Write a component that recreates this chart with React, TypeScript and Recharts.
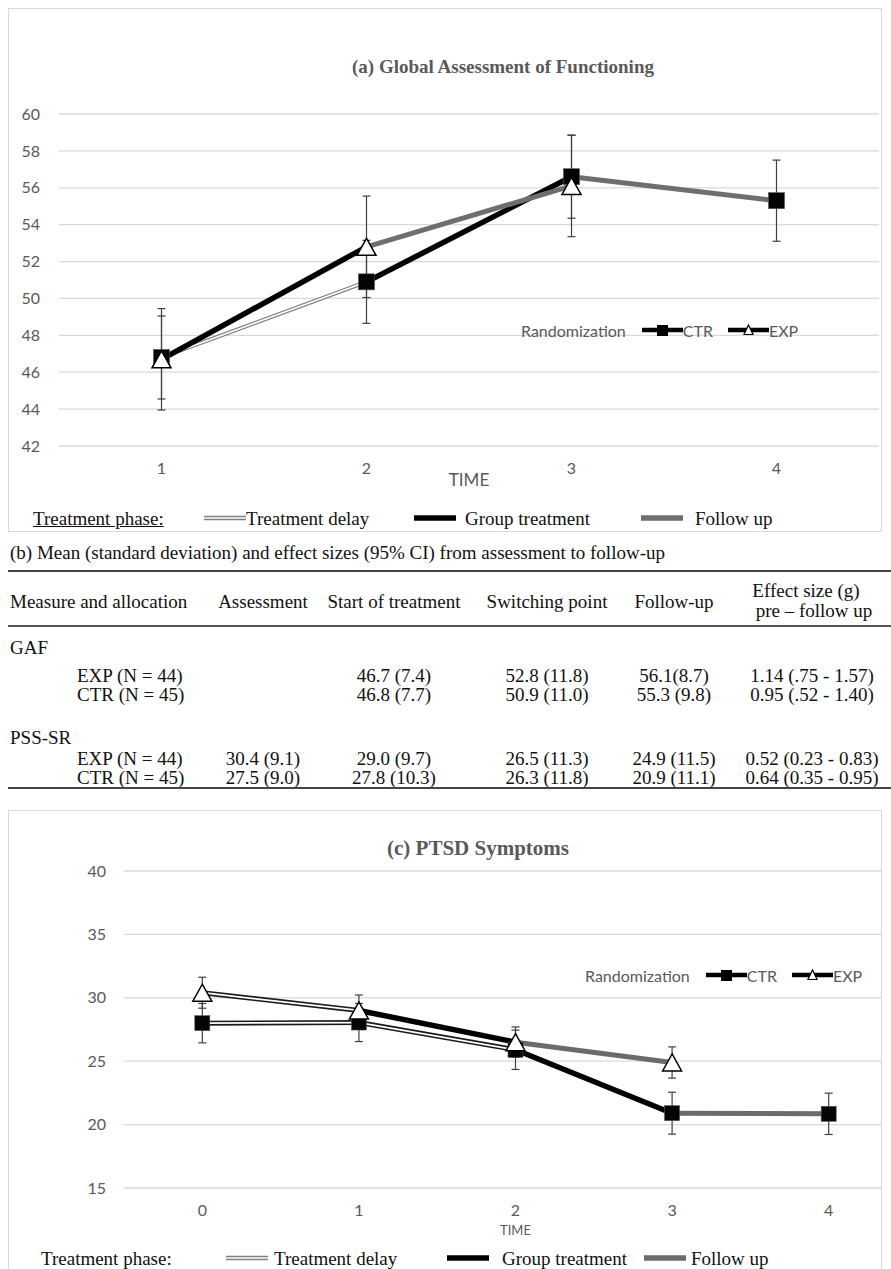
import React from 'react'
import { CartesianGrid, ErrorBar, Line, LineChart, XAxis, YAxis } from 'recharts'

// (a) Global Assessment of Functioning
const gafTimes = ['1', '2', '3', '4']
const gafCtr = [46.8, 50.9, 56.6, 55.3]
const gafCtrErr = [2.25, 2.25, 2.25, 2.2]
const gafExp = [46.7, 52.8, 56.1]
const gafExpErr = [2.75, 2.75, 2.75]
const gafCtrPhases = ['delay', 'group', 'follow']
const gafExpPhases = ['group', 'follow']
const gafTicks = [42, 44, 46, 48, 50, 52, 54, 56, 58, 60]

// (c) PTSD symptoms
const ptsdTimes = ['0', '1', '2', '3', '4']
const ptsdCtr = [28.0, 28.05, 25.9, 20.9, 20.85]
const ptsdCtrErr = [1.55, 1.5, 1.55, 1.65, 1.63]
const ptsdExp = [30.4, 29.0, 26.5, 24.9]
const ptsdExpErr = [1.22, 1.22, 1.2, 1.23]
const ptsdCtrPhases = ['delay', 'delay', 'group', 'follow']
const ptsdExpPhases = ['delay', 'group', 'follow']
const ptsdTicks = [15, 20, 25, 30, 35, 40]

// (b) table
const tableTitle = '(b) Mean (standard deviation) and effect sizes (95% CI) from assessment to follow-up'
const columnHeads = ['Assessment', 'Start of treatment', 'Switching point', 'Follow-up']
const effectHead = ['Effect size (g)', 'pre \u2013 follow up']
const gafTableRows = [
    ['EXP (N = 44)', '', '46.7 (7.4)', '52.8 (11.8)', '56.1(8.7)', '1.14 (.75 - 1.57)'],
    ['CTR (N = 45)', '', '46.8 (7.7)', '50.9 (11.0)', '55.3 (9.8)', '0.95 (.52 - 1.40)']
]
const pssTableRows = [
    ['EXP (N = 44)', '30.4 (9.1)', '29.0 (9.7)', '26.5 (11.3)', '24.9 (11.5)', '0.52 (0.23 - 0.83)'],
    ['CTR (N = 45)', '27.5 (9.0)', '27.8 (10.3)', '26.3 (11.8)', '20.9 (11.1)', '0.64 (0.35 - 0.95)']
]

const phaseLabels = ['Treatment delay', 'Group treatment', 'Follow up']

const SERIF = '"Liberation Serif", "Times New Roman", serif'
const SANS = 'Lato, "Noto Sans", sans-serif'
const AXIS_GREY = '#595959'
const PHASE_ORDER = ['delay', 'group', 'follow']

type PhaseStyle = { color: string; width: number; inner?: number }

const gafPhaseStyles: Record<string, PhaseStyle> = {
    delay: { color: '#7f7f7f', width: 4, inner: 1.6 },
    group: { color: '#000', width: 5.5 },
    follow: { color: '#6e6e6e', width: 5 }
}

const ptsdPhaseStyles: Record<string, PhaseStyle> = {
    delay: { color: '#1a1a1a', width: 5, inner: 1.8 },
    group: { color: '#000', width: 5.5 },
    follow: { color: '#6b6b6b', width: 5 }
}

function buildRows(
    times: string[],
    ctr: number[],
    ctrErr: number[],
    exp: number[],
    expErr: number[],
    ctrPhases: string[],
    expPhases: string[]
) {
    const rows = times.map((time, i) => {
        const row: Record<string, string | number | null> = {
            time,
            ctr: ctr[i] ?? null,
            ctrErr: ctrErr[i] ?? null,
            exp: exp[i] ?? null,
            expErr: expErr[i] ?? null
        }
        ctrPhases.forEach((_, s) => {
            row[`ctr${s}`] = i === s || i === s + 1 ? ctr[i] : null
        })
        expPhases.forEach((_, s) => {
            row[`exp${s}`] = i === s || i === s + 1 ? (exp[i] ?? null) : null
        })
        return row
    })
    const segments = [
        ...ctrPhases.map((phase, s) => ({ key: `ctr${s}`, phase })),
        ...expPhases.map((phase, s) => ({ key: `exp${s}`, phase }))
    ].sort((a, b) => PHASE_ORDER.indexOf(a.phase) - PHASE_ORDER.indexOf(b.phase))
    return { rows, segments }
}

const squareDot = (size: number) => (props: any) => {
    const { cx, cy, index } = props
    if (cx == null || cy == null || Number.isNaN(cy)) return <g key={`sq-${index}`} />
    return (
        <rect
            key={`sq-${index}`}
            x={cx - size / 2}
            y={cy - size / 2}
            width={size}
            height={size}
            fill='#050505'
            stroke='#555'
            strokeWidth={0.6}
        />
    )
}

const triangleDot = (w: number, h: number) => (props: any) => {
    const { cx, cy, index } = props
    if (cx == null || cy == null || Number.isNaN(cy)) return <g key={`tr-${index}`} />
    const pts = `${cx},${cy - h / 2} ${cx + w / 2},${cy + h / 2} ${cx - w / 2},${cy + h / 2}`
    return <polygon key={`tr-${index}`} points={pts} fill='#fff' stroke='#000' strokeWidth={1.5} />
}

function segmentLines(segments: { key: string; phase: string }[], styles: Record<string, PhaseStyle>) {
    return segments.flatMap((seg) => {
        const st = styles[seg.phase]
        const lines = [
            <Line
                key={seg.key}
                dataKey={seg.key}
                stroke={st.color}
                strokeWidth={st.width}
                dot={false}
                activeDot={false}
                isAnimationActive={false}
            />
        ]
        if (st.inner) {
            lines.push(
                <Line
                    key={`${seg.key}-inner`}
                    dataKey={seg.key}
                    stroke='#fff'
                    strokeWidth={st.inner}
                    dot={false}
                    activeDot={false}
                    isAnimationActive={false}
                />
            )
        }
        return lines
    })
}

function errorLines(capHalf: number) {
    return [
        <Line key='ctr-err' dataKey='ctr' stroke='none' dot={false} activeDot={false} isAnimationActive={false}>
            <ErrorBar dataKey='ctrErr' width={capHalf} stroke='#3f3f3f' strokeWidth={1.2} direction='y' isAnimationActive={false} />
        </Line>,
        <Line key='exp-err' dataKey='exp' stroke='none' dot={false} activeDot={false} isAnimationActive={false}>
            <ErrorBar dataKey='expErr' width={capHalf} stroke='#3f3f3f' strokeWidth={1.2} direction='y' isAnimationActive={false} />
        </Line>
    ]
}

function Txt({
    x,
    y,
    children,
    size = 19,
    align = 'left',
    font = SERIF,
    color = '#111',
    weight = 400,
    underline = false
}: {
    x: number
    y: number
    children: React.ReactNode
    size?: number
    align?: 'left' | 'center'
    font?: string
    color?: string
    weight?: number
    underline?: boolean
}) {
    const lh = size
    const style: React.CSSProperties = {
        position: 'absolute',
        top: y - lh / 2,
        left: align === 'center' ? x - 250 : x,
        width: align === 'center' ? 500 : undefined,
        textAlign: align,
        whiteSpace: 'nowrap',
        fontFamily: font,
        fontSize: size,
        lineHeight: `${lh}px`,
        color,
        fontWeight: weight,
        textDecoration: underline ? 'underline' : 'none'
    }
    return <div style={style}>{children}</div>
}

function RandomizationLegend({ x, y }: { x: number; y: number }) {
    return (
        <div
            style={{
                position: 'absolute',
                left: x,
                top: y - 10,
                height: 20,
                display: 'flex',
                alignItems: 'center',
                fontFamily: SANS,
                fontSize: 16,
                color: AXIS_GREY,
                whiteSpace: 'nowrap'
            }}
        >
            <span>Randomization</span>
            <svg width={41} height={16} style={{ marginLeft: 16 }}>
                <line x1={0} y1={8} x2={41} y2={8} stroke='#000' strokeWidth={4.5} />
                <rect x={15} y={3} width={11} height={11} fill='#000' />
            </svg>
            <span>CTR</span>
            <svg width={41} height={16} style={{ marginLeft: 15 }}>
                <line x1={0} y1={8} x2={41} y2={8} stroke='#000' strokeWidth={4.5} />
                <polygon points='20.5,3 25,12.5 16,12.5' fill='#fff' stroke='#000' strokeWidth={1.2} />
            </svg>
            <span>EXP</span>
        </div>
    )
}

function PhaseSample({ phase, styles }: { phase: string; styles: Record<string, PhaseStyle> }) {
    const st = styles[phase]
    return (
        <svg width={42} height={10} style={{ display: 'block' }}>
            <line x1={0} y1={5} x2={42} y2={5} stroke={phase === 'delay' ? '#7f7f7f' : st.color} strokeWidth={phase === 'delay' ? 4.5 : 5.5} />
            {st.inner ? <line x1={0} y1={5} x2={42} y2={5} stroke='#fff' strokeWidth={1.6} /> : null}
        </svg>
    )
}

function PhaseLegend({
    y,
    styles,
    labelX,
    sampleX,
    textX,
    underline
}: {
    y: number
    styles: Record<string, PhaseStyle>
    labelX: number
    sampleX: number[]
    textX: number[]
    underline: boolean
}) {
    return (
        <>
            <Txt x={labelX} y={y} size={19} underline={underline}>
                Treatment phase:
            </Txt>
            {PHASE_ORDER.map((phase, i) => (
                <React.Fragment key={phase}>
                    <div style={{ position: 'absolute', left: sampleX[i], top: y - 5 }}>
                        <PhaseSample phase={phase} styles={styles} />
                    </div>
                    <Txt x={textX[i]} y={y} size={19}>
                        {phaseLabels[i]}
                    </Txt>
                </React.Fragment>
            ))}
        </>
    )
}

const gaf = buildRows(gafTimes, gafCtr, gafCtrErr, gafExp, gafExpErr, gafCtrPhases, gafExpPhases)
const ptsd = buildRows(ptsdTimes, ptsdCtr, ptsdCtrErr, ptsdExp, ptsdExpErr, ptsdCtrPhases, ptsdExpPhases)

const tickStyle = { fill: AXIS_GREY, fontSize: 16, fontFamily: SANS }
const colCenters = [263, 394, 547, 674, 812]

function TableRows({ rows, y }: { rows: string[][]; y: number[] }) {
    return (
        <>
            {rows.map((row, r) =>
                row.map((cell, c) =>
                    c === 0 ? (
                        <Txt key={`${r}-${c}`} x={77} y={y[r]}>
                            {cell}
                        </Txt>
                    ) : cell ? (
                        <Txt key={`${r}-${c}`} x={colCenters[c - 1]} y={y[r]} align='center'>
                            {cell}
                        </Txt>
                    ) : null
                )
            )}
        </>
    )
}

export default function App() {
    return (
        <div
            style={{
                position: 'absolute',
                left: 0,
                top: 0,
                width: 891,
                height: 1269,
                overflow: 'hidden',
                background: '#fff'
            }}
        >
            {/* (a) GAF panel */}
            <div
                style={{
                    position: 'absolute',
                    left: 8,
                    top: 8,
                    width: 874,
                    height: 524,
                    border: '1px solid #d9d9d9',
                    boxSizing: 'border-box'
                }}
            />
            <Txt x={503} y={66} size={19} align='center' weight={700} color={AXIS_GREY}>
                (a) Global Assessment of Functioning
            </Txt>
            <div style={{ position: 'absolute', left: 0, top: 0 }}>
                <LineChart width={891} height={494} data={gaf.rows} margin={{ top: 114, right: 12, bottom: 8, left: 0 }}>
                    <CartesianGrid vertical={false} stroke='#d9d9d9' strokeWidth={1.3} />
                    <XAxis
                        dataKey='time'
                        axisLine={false}
                        tickLine={false}
                        tick={tickStyle}
                        tickMargin={11}
                        height={40}
                        padding={{ left: 102.5, right: 102.5 }}
                        label={{ value: 'TIME', position: 'insideBottom', offset: 0, fill: AXIS_GREY, fontSize: 17, fontFamily: SANS }}
                    />
                    <YAxis
                        domain={[42, 60]}
                        ticks={gafTicks}
                        axisLine={false}
                        tickLine={false}
                        tick={tickStyle}
                        tickMargin={13}
                        width={59}
                    />
                    {segmentLines(gaf.segments, gafPhaseStyles)}
                    {errorLines(4)}
                    <Line dataKey='ctr' stroke='none' dot={squareDot(16)} activeDot={false} isAnimationActive={false} />
                    <Line dataKey='exp' stroke='none' dot={triangleDot(19, 17)} activeDot={false} isAnimationActive={false} />
                </LineChart>
            </div>
            <RandomizationLegend x={521} y={330} />
            <PhaseLegend
                y={518}
                styles={gafPhaseStyles}
                labelX={33}
                sampleX={[204, 414, 641]}
                textX={[246, 465, 695]}
                underline
            />

            {/* (b) table */}
            <Txt x={10} y={552}>
                {tableTitle}
            </Txt>
            <div style={{ position: 'absolute', left: 8, top: 570, width: 883, height: 2, background: '#444' }} />
            <Txt x={10} y={601}>
                Measure and allocation
            </Txt>
            {columnHeads.map((head, i) => (
                <Txt key={head} x={colCenters[i]} y={601} align='center'>
                    {head}
                </Txt>
            ))}
            <Txt x={806} y={590} align='center'>
                {effectHead[0]}
            </Txt>
            <Txt x={814} y={610} align='center'>
                {effectHead[1]}
            </Txt>
            <div style={{ position: 'absolute', left: 8, top: 625, width: 883, height: 1.5, background: '#555' }} />
            <Txt x={10} y={647}>
                GAF
            </Txt>
            <TableRows rows={gafTableRows} y={[675, 694]} />
            <Txt x={10} y={737}>
                PSS-SR
            </Txt>
            <TableRows rows={pssTableRows} y={[758, 777]} />
            <div style={{ position: 'absolute', left: 8, top: 787, width: 883, height: 2, background: '#444' }} />

            {/* (c) PTSD panel */}
            <div
                style={{
                    position: 'absolute',
                    left: 8,
                    top: 810,
                    width: 874,
                    height: 480,
                    border: '1px solid #d9d9d9',
                    boxSizing: 'border-box'
                }}
            />
            <div style={{ position: 'absolute', left: 0, top: 810, width: 882, height: 459, overflow: 'hidden' }}>
                <LineChart width={907} height={433} data={ptsd.rows} margin={{ top: 61, right: 0, bottom: 8, left: 0 }}>
                    <CartesianGrid vertical={false} stroke='#d9d9d9' strokeWidth={1.3} />
                    <XAxis
                        dataKey='time'
                        axisLine={false}
                        tickLine={false}
                        tick={tickStyle}
                        tickMargin={11}
                        height={47}
                        padding={{ left: 78.3, right: 78.3 }}
                        label={{ value: 'TIME', position: 'insideBottom', offset: 0, fill: AXIS_GREY, fontSize: 13, fontFamily: SANS }}
                    />
                    <YAxis
                        domain={[15, 40]}
                        ticks={ptsdTicks}
                        axisLine={false}
                        tickLine={false}
                        tick={tickStyle}
                        tickMargin={12}
                        width={124}
                    />
                    {segmentLines(ptsd.segments, ptsdPhaseStyles)}
                    {errorLines(4)}
                    <Line dataKey='ctr' stroke='none' dot={squareDot(15)} activeDot={false} isAnimationActive={false} />
                    <Line dataKey='exp' stroke='none' dot={triangleDot(19, 17)} activeDot={false} isAnimationActive={false} />
                </LineChart>
            </div>
            <Txt x={478} y={848} size={21} align='center' weight={700} color={AXIS_GREY}>
                (c) PTSD Symptoms
            </Txt>
            <RandomizationLegend x={585} y={975} />
            <PhaseLegend
                y={1258}
                styles={ptsdPhaseStyles}
                labelX={41}
                sampleX={[226, 447, 644]}
                textX={[274, 502, 691]}
                underline={false}
            />
        </div>
    )
}
